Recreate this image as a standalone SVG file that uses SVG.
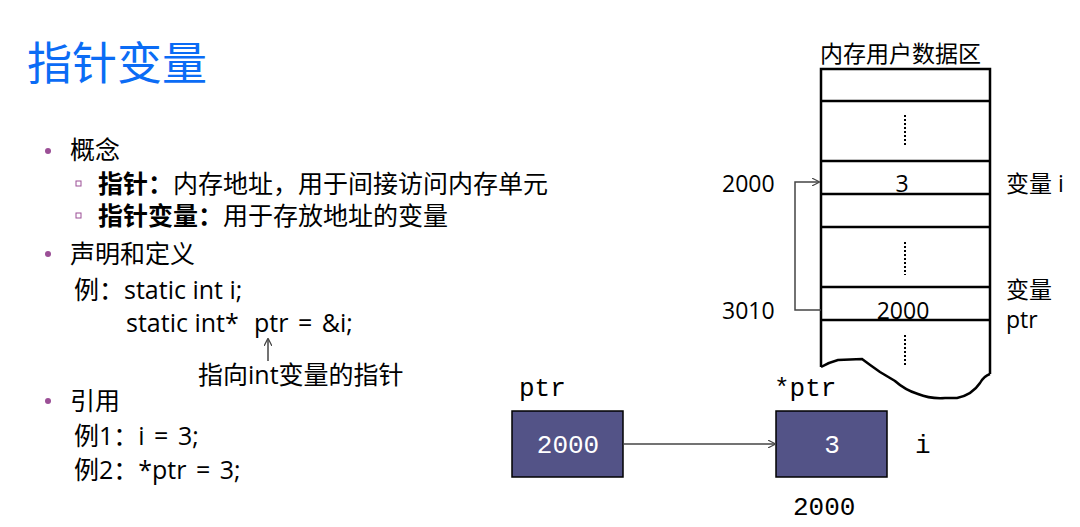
<svg xmlns="http://www.w3.org/2000/svg" width="1080" height="527" viewBox="0 0 1080 527">
<style>
.t{font-family:"Open Sans","Noto Sans CJK SC",sans-serif;font-size:25px;fill:#000}
.r{font-family:"Open Sans","Noto Sans CJK SC",sans-serif;font-size:23px;fill:#000}
.b{font-weight:bold}
.w{word-spacing:3px}
.m{font-family:"Liberation Mono","DejaVu Sans Mono",monospace;font-size:26px}
.mem{fill:none;stroke:#000;stroke-width:2.5}
.dot{stroke:#000;stroke-width:2;stroke-dasharray:2 2}
.conn{fill:none;stroke:#444;stroke-width:1.5}
.box{fill:#535387;stroke:#000;stroke-width:1.5}
</style>
<defs>
<marker id="ah" viewBox="0 0 10 10" refX="9" refY="5" markerWidth="8" markerHeight="8" markerUnits="userSpaceOnUse" orient="auto">
<path d="M0,0 L10,5 L0,10" fill="none" stroke="#444" stroke-width="1.5"/>
</marker>
</defs>
<rect width="1080" height="527" fill="#fff"/>
<text x="27" y="80" font-family="'Noto Sans CJK SC',sans-serif" font-size="45" fill="#0b6cf5">指针变量</text>
<g id="text-left">
<circle cx="48" cy="151" r="3" fill="#9b4f96"/>
<text class="t" x="70" y="159">概念</text>
<rect x="76" y="181" width="5" height="5" fill="none" stroke="#9b4f96" stroke-width="1"/>
<text class="t" x="98" y="193"><tspan class="b">指针：</tspan>内存地址，用于间接访问内存单元</text>
<rect x="76" y="213" width="5" height="5" fill="none" stroke="#9b4f96" stroke-width="1"/>
<text class="t" x="98" y="225"><tspan class="b">指针变量：</tspan>用于存放地址的变量</text>
<circle cx="48" cy="254" r="3" fill="#9b4f96"/>
<text class="t" x="70" y="263">声明和定义</text>
<text class="t" x="74" y="299">例：static int i;</text>
<text class="t" x="126" y="332">static int*<tspan class="w" x="254">ptr = &amp;i;</tspan></text>
<text class="t" x="198" y="384">指向int变量的指针</text>
<circle cx="48" cy="401" r="3" fill="#9b4f96"/>
<text class="t" x="70" y="410">引用</text>
<text class="t w" x="74" y="445">例1：i = 3;</text>
<text class="t w" x="74" y="479">例2：*ptr = 3;</text>
</g>
<g id="memory">
<text class="r" x="820" y="62" font-size="21">内存用户数据区</text>
<path class="mem" d="M821,367 L821,69 L990,69 L990,374"/>
<path class="mem" d="M821,101 H990 M821,161 H990 M821,194 H990 M821,227 H990 M821,287 H990 M821,320 H990"/>
<path class="mem" d="M821,367 Q830,362 838,360 L862,359 Q870,365 880,372 L895,381 Q905,390 918,394 Q930,399 945,398 L957,398 Q972,395 980,383 Q984,376 990,374"/>
<line class="dot" x1="905" y1="115" x2="905" y2="147"/>
<line class="dot" x1="905" y1="242" x2="905" y2="275"/>
<line class="dot" x1="905" y1="335" x2="905" y2="367"/>
<text class="r" x="902" y="192" text-anchor="middle">3</text>
<text class="r" x="903" y="319" text-anchor="middle">2000</text>
<text class="r" x="722" y="192">2000</text>
<text class="r" x="722" y="319">3010</text>
<text class="r" x="1006" y="192">变量 i</text>
<text class="r" x="1006" y="298">变量</text>
<text class="r" x="1006" y="328">ptr</text>
</g>
<g id="node-ptr">
<text class="m" x="519" y="396">ptr</text>
<rect class="box" x="512" y="411" width="111" height="66"/>
<text class="m" x="568" y="453" fill="#fff" text-anchor="middle">2000</text>
</g>
<g id="node-i">
<text class="m" x="774" y="396">*ptr</text>
<rect class="box" x="776" y="411" width="111" height="66"/>
<text class="m" x="832" y="453" fill="#fff" text-anchor="middle">3</text>
<text class="m" x="915" y="453">i</text>
<text class="m" x="793" y="515">2000</text>
</g>
<g id="connectors">
<path class="conn" d="M821,310 H795 V182 H819" marker-end="url(#ah)"/>
<line class="conn" x1="624" y1="444" x2="775" y2="444" marker-end="url(#ah)"/>
<line class="conn" x1="268" y1="361" x2="268" y2="339" marker-end="url(#ah)"/>
</g>
</svg>
